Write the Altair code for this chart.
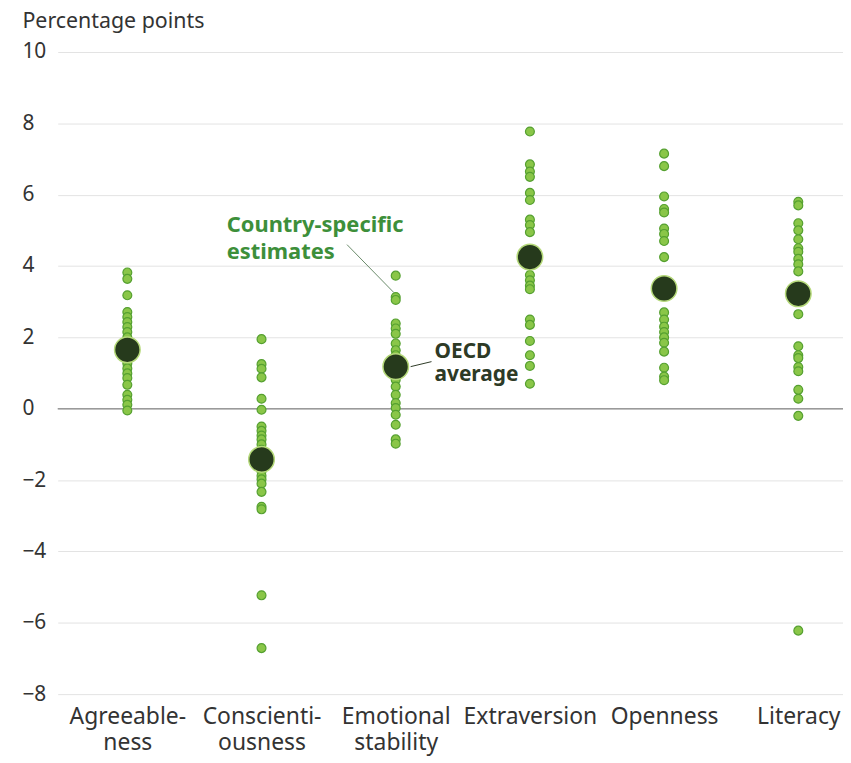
import altair as alt
import pandas as pd

categories = ["Agreeable-\nness", "Conscienti-\nousness", "Emotional\nstability",
              "Extraversion", "Openness", "Literacy"]

agreeableness = [3.82, 3.64, 3.18, 2.71, 2.57, 2.43, 2.29, 2.15, 2.0, 1.87, 1.45, 1.27,
                 1.13, 0.99, 0.86, 0.67, 0.39, 0.25, 0.11, -0.05]
conscientiousness = [1.95, 1.25, 1.12, 0.88, 0.28, -0.03, -0.5, -0.62, -0.75, -0.86, -1.0,
                     -1.15, -1.6, -1.75, -1.88, -1.98, -2.1, -2.33, -2.75, -2.82, -5.23, -6.71]
emotional = [3.73, 3.13, 3.05, 2.39, 2.25, 2.1, 1.83, 1.64, 1.5, 1.0, 0.81, 0.62, 0.39,
             0.16, 0.02, -0.17, -0.45, -0.86, -0.98]
extraversion = [7.77, 6.85, 6.65, 6.5, 6.05, 5.85, 5.3, 5.15, 4.95, 3.75, 3.6, 3.45, 3.35,
                2.5, 2.35, 1.9, 1.5, 1.2, 0.7]
openness = [7.15, 6.8, 5.95, 5.6, 5.5, 5.05, 4.9, 4.7, 4.25, 2.7, 2.5, 2.3, 2.15, 2.0,
            1.85, 1.6, 1.15, 0.9, 0.8]
literacy = [5.8, 5.7, 5.2, 5.0, 4.75, 4.5, 4.4, 4.2, 4.05, 3.85, 2.65, 1.75, 1.5, 1.42,
            1.17, 1.05, 0.53, 0.28, -0.2, -6.22]
oecd_means = [1.65, -1.42, 1.18, 4.25, 3.37, 3.22]
y_ticks = [-8, -6, -4, -2, 0, 2, 4, 6, 8, 10]

series = [agreeableness, conscientiousness, emotional, extraversion, openness, literacy]

rows = []
for cat, vals in zip(categories, series):
    for v in vals:
        rows.append({"category": cat, "value": v})
countries = pd.DataFrame(rows)
means = pd.DataFrame({"category": categories, "value": oecd_means})

FONT = "Noto Sans"
x_scale = alt.Scale(type="point", domain=categories, padding=0.426, align=0.609)
y_scale = alt.Scale(domain=[-8, 10], nice=False, zero=False)

x_axis = alt.Axis(title=None, labelAngle=0, labelFontSize=23, labelColor="#333333",
                  labelFont=FONT, domain=False, ticks=False, labelPadding=12,
                  labelLineHeight=26, grid=False,
                  labelExpr="split(datum.label, '\\n')")
y_axis = alt.Axis(values=y_ticks, labelFontSize=21,
                  labelColor="#333333", labelFont=FONT, labelAlign="left",
                  labelPadding=36, tickSize=0, ticks=False, domain=False,
                  gridColor="#e3e3e3", gridWidth=1,
                  title="Percentage points", titleAngle=0, titleAlign="left",
                  titleBaseline="alphabetic", titleX=-36, titleY=-25,
                  titleFont=FONT, titleFontSize=21.5, titleFontWeight="normal",
                  titleColor="#333333")

def X():
    return alt.X("category:N", scale=x_scale, sort=categories, axis=x_axis)

def Y():
    return alt.Y("value:Q", scale=y_scale, axis=y_axis)

zero = alt.Chart(pd.DataFrame({"value": [0]})).mark_rule(color="#9a9a9a", strokeWidth=1.6).encode(
    y=Y())

dots = alt.Chart(countries).mark_point(filled=True, size=80, fill="#8ac648",
                                       stroke="#55a030", strokeWidth=1.2, opacity=1).encode(
    x=X(), y=Y())

mean_dots = alt.Chart(means).mark_point(filled=True, size=660, fill="#263a1c",
                                        stroke="#b5d97a", strokeWidth=1.5, opacity=1).encode(
    x=X(), y=Y())

# annotations
ann_lines = pd.DataFrame({
    "category": [categories[2], categories[2]],
    "value": [4.6, 1.18],
    "value2": [3.26, 1.32],
})
leader_country = alt.Chart(ann_lines.iloc[[0]]).mark_rule(
    color="#6a8a6a", strokeWidth=1, xOffset=-49, x2Offset=-2).encode(
    x=X(), x2="category:N", y=Y(), y2="value2:Q")
leader_oecd = alt.Chart(ann_lines.iloc[[1]]).mark_rule(
    color="#2d3a26", strokeWidth=1, xOffset=15, x2Offset=36).encode(
    x=X(), x2="category:N", y=Y(), y2="value2:Q")

ann_text = pd.DataFrame({
    "category": [categories[1], categories[2]],
    "value": [5.15, 1.59],
    "label": ["Country-specific\nestimates", "OECD\naverage"],
})
txt_country = alt.Chart(ann_text.iloc[[0]]).mark_text(
    font=FONT, fontSize=22, fontWeight="bold", color="#3d8f3a", align="left",
    baseline="middle", dx=-35, lineHeight=27, lineBreak="\n").encode(
    x=X(), y=Y(), text="label:N")
txt_oecd = alt.Chart(ann_text.iloc[[1]]).mark_text(
    font=FONT, fontSize=21, fontWeight="bold", color="#2d3a26", align="left",
    baseline="middle", dx=39, lineHeight=23, lineBreak="\n").encode(
    x=X(), y=Y(), text="label:N")

chart = alt.layer(zero, dots, mean_dots, leader_country, leader_oecd, txt_country, txt_oecd).properties(
    width=790, height=646,
    autosize=alt.AutoSizeParams(type="none"),
    padding={"left": 50, "top": 42, "right": 0, "bottom": 60},
).configure(font=FONT).configure_view(stroke="transparent", strokeWidth=0)

chart.save("out.html", embed_options={"renderer": "svg", "actions": False})
